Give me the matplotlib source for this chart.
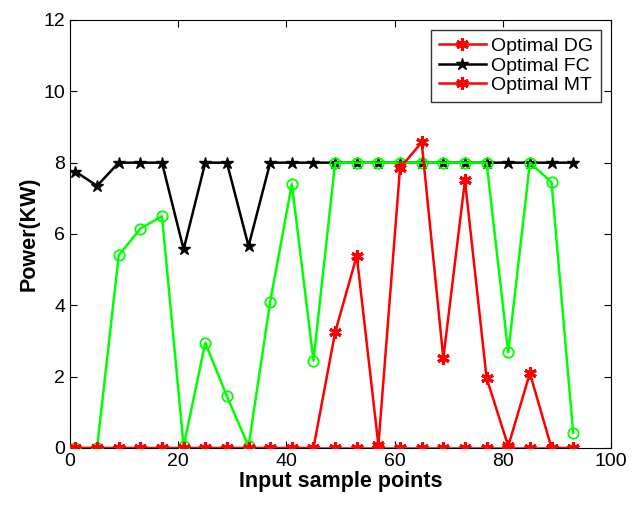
import matplotlib.pyplot as plt
import numpy as np

plt.rcParams['font.family'] = ['Liberation Sans', 'DejaVu Sans']

x = np.arange(1, 94, 4)
dg = [0, 0, 0, 0, 0, 0, 0, 0, 0, 0, 0, 0,
      3.24, 5.39, 0.08, 7.85, 8.57, 2.52, 7.5, 1.96, 0.05, 2.1, 0, 0]
fc = [7.75, 7.35, 8, 8, 8, 5.57, 8, 8, 5.66, 8, 8, 8,
      8, 8, 8, 8, 8, 8, 8, 8, 8, 8, 8, 8]
mt = [0] * 24
bat = [0, 0, 5.4, 6.15, 6.5, 0.05, 2.95, 1.45, 0.05, 4.1, 7.4, 2.45,
       8, 8, 8, 8, 8, 8, 8, 8, 2.68, 8, 7.45, 0.43]

fig = plt.figure(figsize=(6.33, 5.05), dpi=100)
ax = fig.add_axes([0.1106, 0.1129, 0.8547, 0.8475])

ast = (6, 2, 0)  # asterisk marker
ax.plot(x, fc, '-*', color='black', lw=1.8, ms=9, label='Optimal FC', zorder=2)
ax.plot(x, bat, '-o', color='#00ff00', lw=1.8, ms=7.5, mfc='none', mew=1.3,
        zorder=3)
ax.plot(x, dg, '-', marker=ast, color='red', lw=1.8, ms=9, mew=2.2,
        label='Optimal DG', zorder=4)
ax.plot(x, mt, '-', marker=ast, color='red', lw=1.8, ms=9, mew=2.2,
        label='Optimal MT', zorder=4)

h, l = ax.get_legend_handles_labels()
order = [1, 0, 2]
ax.legend([h[i] for i in order], [l[i] for i in order], loc='upper right',
          fontsize=14, frameon=True, fancybox=False, edgecolor='black',
          handlelength=2.4, handletextpad=0.3, borderaxespad=0.5,
          labelspacing=0.1)

ax.set_xlim(0, 100)
ax.set_ylim(0, 12)
ax.set_xticks(range(0, 101, 20))
ax.set_yticks(range(0, 13, 2))
ax.tick_params(direction='in', top=True, right=True, labelsize=14, length=5)
ax.set_xlabel('Input sample points', fontsize=15.5, fontweight='bold', labelpad=1)
ax.set_ylabel('Power(KW)', fontsize=15.5, fontweight='bold', labelpad=3)

fig.savefig('out.png', dpi=100)
